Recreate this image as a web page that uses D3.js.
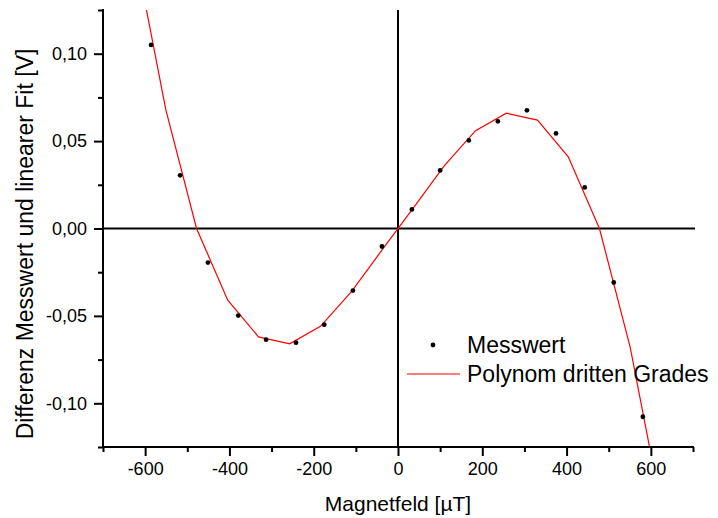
<!DOCTYPE html>
<html><head><meta charset="utf-8">
<script src="https://cdn.jsdelivr.net/npm/d3@7"></script>
<style>body{margin:0;background:#fff}svg{display:block}text{font-family:"Liberation Sans",Arial,sans-serif;fill:#000}</style>
</head><body>
<script>
const pointX = [-586,-517,-451,-379,-313,-242,-175,-107,-38,33,100,168,237,306,375,443,512,581];
const pointY = [0.105,0.0304,-0.0195,-0.0498,-0.0636,-0.0653,-0.055,-0.0355,-0.0103,0.0109,0.0332,0.0504,0.0613,0.0676,0.0544,0.0235,-0.0309,-0.1077];
const fitX = [-625,-551,-478,-404,-331,-257,-184,-110,-37,37,110,184,257,331,404,478,551,625];
const fitY = [0.16,0.068,0.0,-0.041,-0.062,-0.066,-0.056,-0.036,-0.012,0.012,0.036,0.056,0.066,0.062,0.041,0.0,-0.068,-0.16];
const xMajor = [-600,-400,-200,0,200,400,600];
const xMinor = [-700,-500,-300,-100,100,300,500,700];
const yMajor = [-0.10,-0.05,0.00,0.05,0.10];
const yMinor = [-0.125,-0.075,-0.025,0.025,0.075,0.125];
const seriesNames = ["Messwert","Polynom dritten Grades"];

const W=718,H=518;
const svg=d3.select("body").append("svg").attr("width",W).attr("height",H);
const x=d3.scaleLinear().domain([-700,700]).range([103,693]);
const y=d3.scaleLinear().domain([-0.125,0.125]).range([447,10]);
const fmt=d => d3.format(".2f")(d).replace(".",",").replace("−","-");

svg.append("clipPath").attr("id","c").append("rect").attr("x",103).attr("y",10).attr("width",590).attr("height",437);

// zero lines
svg.append("line").attr("x1",103).attr("x2",695).attr("y1",y(0)).attr("y2",y(0)).attr("stroke","#000").attr("stroke-width",2);
svg.append("line").attr("x1",x(0)).attr("x2",x(0)).attr("y1",10).attr("y2",447).attr("stroke","#000").attr("stroke-width",2);

// fit line
svg.append("path").datum(fitX.map((v,i)=>[v,fitY[i]])).attr("clip-path","url(#c)")
  .attr("d",d3.line().x(d=>x(d[0])).y(d=>y(d[1]))).attr("fill","none").attr("stroke","#ff0000").attr("stroke-width",1.2);

// points
svg.append("g").selectAll("circle").data(pointX.map((v,i)=>[v,pointY[i]])).join("circle")
  .attr("cx",d=>x(d[0])).attr("cy",d=>y(d[1])).attr("r",2.4).attr("fill","#000");

// axes
const gx=svg.append("g").attr("transform","translate(0,447)");
gx.call(d3.axisBottom(x).tickValues(xMajor).tickSize(9).tickSizeOuter(0).tickFormat(d=>String(d)).tickPadding(6));
gx.append("g").call(d3.axisBottom(x).tickValues(xMinor).tickSize(5).tickSizeOuter(0).tickFormat(""));
gx.selectAll(".domain").attr("stroke-width",2).attr("d","M102,0H694");
gx.selectAll(".tick line").attr("stroke-width",2);
gx.selectAll("text").attr("font-size",18).attr("font-family","Liberation Sans, Arial, sans-serif").attr("fill","#000");

const gy=svg.append("g").attr("transform","translate(103,0)");
gy.call(d3.axisLeft(y).tickValues(yMajor).tickSize(9).tickSizeOuter(0).tickFormat(fmt).tickPadding(7));
gy.append("g").call(d3.axisLeft(y).tickValues(yMinor).tickSize(5).tickSizeOuter(0).tickFormat(""));
gy.selectAll(".domain").attr("stroke-width",2).attr("d","M0,9V448");
gy.selectAll(".tick line").attr("stroke-width",2);
gy.selectAll("text").attr("font-size",18).attr("font-family","Liberation Sans, Arial, sans-serif").attr("fill","#000");

// titles
svg.append("text").attr("x",398).attr("y",511).attr("text-anchor","middle").attr("font-size",21).text("Magnetfeld [µT]");
svg.append("text").attr("transform","translate(33,244) rotate(-90)").attr("text-anchor","middle").attr("font-size",23).text("Differenz Messwert und linearer Fit [V]");

// legend
const lg=svg.append("g");
lg.append("circle").attr("cx",433).attr("cy",345).attr("r",2.4).attr("fill","#000");
lg.append("text").attr("x",467).attr("y",353).attr("font-size",23).text(seriesNames[0]);
lg.append("line").attr("x1",407).attr("x2",460).attr("y1",374).attr("y2",374).attr("stroke","#ff0000").attr("stroke-width",1.2);
lg.append("text").attr("x",467).attr("y",382).attr("font-size",23).text(seriesNames[1]);
</script>
</body></html>
